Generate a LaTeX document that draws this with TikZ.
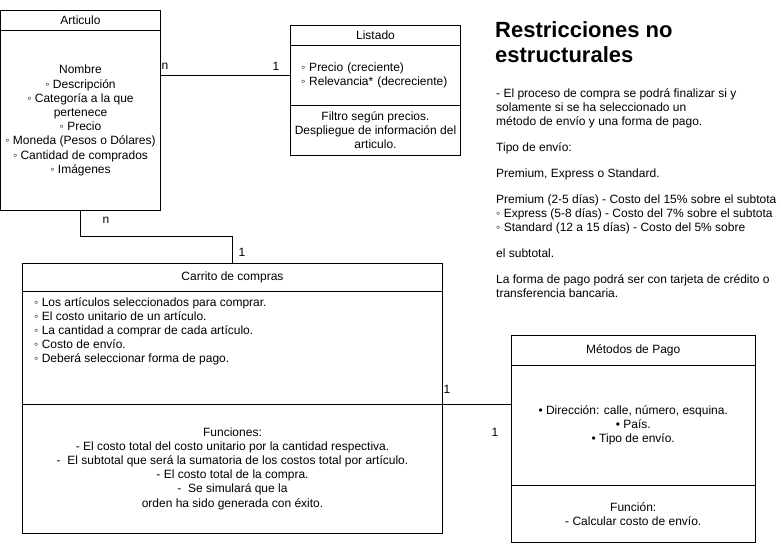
\documentclass[tikz,border=0pt]{standalone}
\usepackage{fontspec}
\setmainfont{Liberation Sans}
\usetikzlibrary{positioning}
\tikzset{
	every node/.style={font=\fontsize{12}{14.2}\selectfont},
	umlbox/.style={draw, line width=1pt, inner sep=0pt, outer sep=0pt, align=center},
	link/.style={draw, line width=1pt},
	mult/.style={inner sep=0pt}
}

\begin{document}
\begin{tikzpicture}[x=1pt, y=-1pt]
\useasboundingbox (0,0) rectangle (781,543);
\clip (0,0) rectangle (781,543);
\node (arthead) [umlbox, minimum width=160, minimum height=20] at (80.5,20.5) {Articulo};
\node (artbody) [umlbox, minimum width=160, minimum height=180, below=0pt of arthead] {Nombre\\ ◦ Descripción\\ ◦ Categoría a la que\\ pertenece\\ ◦ Precio\\ ◦ Moneda (Pesos o Dólares)\\ ◦ Cantidad de comprados\\ ◦ Imágenes};
\node (listhead) [umlbox, minimum width=170, minimum height=20] at (375.5,35.5) {Listado};
\node (listbody) [umlbox, minimum height=59.5, text width=149, inner xsep=10.5, align=left, below=0pt of listhead] {◦ Precio (creciente)\\ ◦ Relevancia* (decreciente)};
\node (listfoot) [umlbox, minimum width=170, minimum height=50.5, below=0pt of listbody] {Filtro según precios.\\ Despliegue de información del\\ articulo.};
\node (carthead) [umlbox, minimum width=420, minimum height=27.5] at (232.5,277.25) {Carrito de compras};
\node (cartbody) [umlbox, minimum width=420, minimum height=113, below=0pt of carthead] {};
\node (cartattr) [anchor=north west, align=left, inner sep=0pt] at ([shift={(11.5,6)}]cartbody.north west) {◦ Los artículos seleccionados para comprar.\\ ◦ El costo unitario de un artículo.\\ ◦ La cantidad a comprar de cada artículo.\\ ◦ Costo de envío.\\ ◦ Deberá seleccionar forma de pago.};
\node (cartfoot) [umlbox, minimum width=420, minimum height=129, below=0pt of cartbody] {Funciones:\\ - El costo total del costo unitario por la cantidad respectiva.\\ -~ El subtotal que será la sumatoria de los costos total por artículo.\\ - El costo total de la compra.\\ -~ Se simulará que la\\ orden ha sido generada con éxito.};
\node (methead) [umlbox, minimum width=244.5, minimum height=30] at (633.25,350.5) {Métodos de Pago};
\node (metbody) [umlbox, minimum width=244.5, minimum height=120, below=0pt of methead] {• Dirección: calle, número, esquina.\\ • País.\\ • Tipo de envío.};
\node (metfoot) [umlbox, minimum width=244.5, minimum height=56.5, below=0pt of metbody] {Función:\\ - Calcular costo de envío.};
\draw[link] (artbody.east |- listbody.west) -- (listbody.west);
\draw[link] (artbody.south) -- ++(0,25.5) -| (carthead.north);
\draw[link] (cartbody.south east) -- (cartbody.south east -| metbody.west);
\node (artn) [mult] at (165,66) {n}; \node (list1) [mult] at (276,66) {1};
\node (artn2) [mult] at (106,220) {n}; \node (cart1) [mult] at (242,252) {1};
\node (cart2) [mult] at (447,389) {1}; \node (met1) [mult] at (495,432) {1};
\node (title) [anchor=north west, align=left, inner sep=0pt, font=\fontsize{22}{25}\selectfont\bfseries] at (495,21.5) {Restricciones no\\ estructurales};
\node (notes) [anchor=north west, align=left, inner sep=0pt] at (496,88.5) {- El proceso de compra se podrá finalizar si y\\ solamente si se ha seleccionado un\\ método de envío y una forma de pago.\\[11.6pt] Tipo de envío:\\[11.6pt] Premium, Express o Standard.\\[11.6pt] Premium (2-5 días) - Costo del 15\% sobre el subtota\\ ◦ Express (5-8 días) - Costo del 7\% sobre el subtota\\ ◦ Standard (12 a 15 días) - Costo del 5\% sobre\\[11.6pt] el subtotal.\\[11.6pt] La forma de pago podrá ser con tarjeta de crédito o\\ transferencia bancaria.};
\end{tikzpicture}
\end{document}
